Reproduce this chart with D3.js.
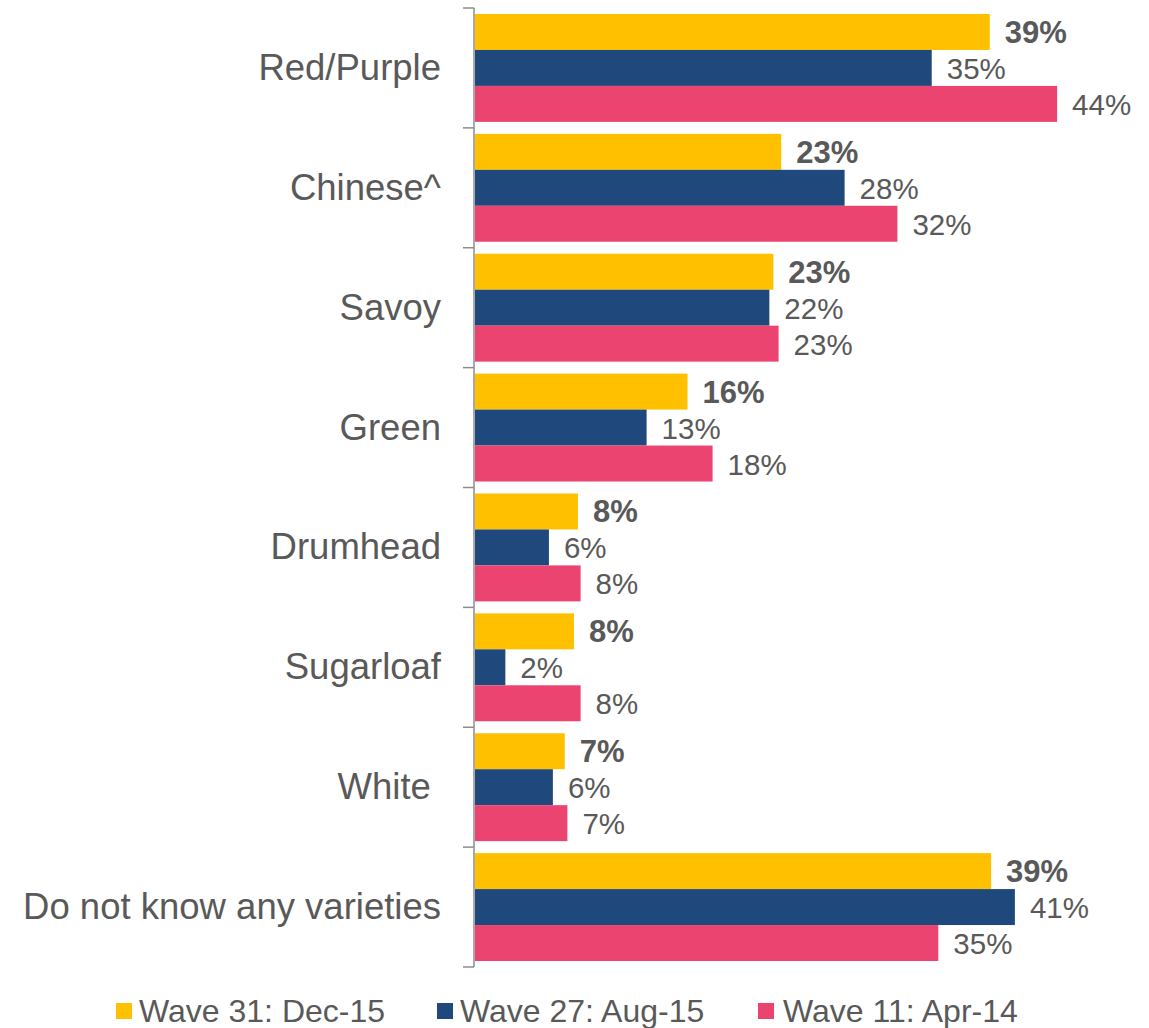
<!DOCTYPE html>
<html>
<head>
<meta charset="utf-8">
<script src="https://cdn.jsdelivr.net/npm/d3@7"></script>
<style>
  html, body { margin: 0; padding: 0; background: #ffffff; }
  svg { display: block; font-family: Arial, "Liberation Sans", Helvetica, sans-serif; }
</style>
</head>
<body>
<svg id="chart" width="1149" height="1028"></svg>
<script>
// Cabbage varieties known, by survey wave (share of respondents)
const categories = ["Red/Purple", "Chinese^", "Savoy", "Green", "Drumhead", "Sugarloaf", "White\u00a0", "Do not know any varieties"];
const seriesNames = ["Wave 31: Dec-15", "Wave 27: Aug-15", "Wave 11: Apr-14"];
const wave31 = [0.390, 0.232, 0.226, 0.161, 0.078, 0.075, 0.068, 0.391];
const wave27 = [0.346, 0.280, 0.223, 0.130, 0.056, 0.023, 0.059, 0.409];
const wave11 = [0.441, 0.320, 0.230, 0.180, 0.080, 0.080, 0.070, 0.351];
const seriesColors = ["#FFC000", "#1F497D", "#EC4470"];

const seriesValues = [wave31, wave27, wave11];
const textColor = "#595959";

const svg = d3.select("#chart");

const x = d3.scaleLinear().domain([0, 0.5]).range([475, 1135]);
const y = d3.scaleBand().domain(categories).range([8, 967]).paddingInner(0.1).paddingOuter(0.05);
const ySub = d3.scaleBand().domain(seriesNames).range([0, y.bandwidth()]);
const pct = d3.format(".0%");

// bars and value labels
const groups = svg.append("g").selectAll("g")
  .data(categories)
  .join("g")
  .attr("transform", d => `translate(0,${y(d)})`);

groups.each(function(cat, ci) {
  const g = d3.select(this);
  seriesNames.forEach((s, si) => {
    const v = seriesValues[si][ci];
    g.append("rect")
      .attr("x", x(0))
      .attr("y", ySub(s))
      .attr("width", x(v) - x(0))
      .attr("height", ySub.bandwidth())
      .attr("fill", seriesColors[si]);
    g.append("text")
      .attr("x", x(v) + 15)
      .attr("y", ySub(s) + ySub.bandwidth() / 2 + 11)
      .attr("font-size", si === 0 ? 31 : 29.5)
      .attr("font-weight", si === 0 ? "bold" : "normal")
      .attr("fill", textColor)
      .text(pct(v));
  });
});

// category axis: vertical line with ticks between groups
const axisG = svg.append("g");
const step = y.step();
const boundaries = d3.range(categories.length + 1).map(i => 8 + i * step);
axisG.append("line")
  .attr("x1", 474).attr("x2", 474)
  .attr("y1", boundaries[0]).attr("y2", boundaries[boundaries.length - 1])
  .attr("stroke", "#8c8c8c").attr("stroke-width", 1.5);
axisG.selectAll("line.tick")
  .data(boundaries)
  .join("line")
  .attr("class", "tick")
  .attr("x1", 463).attr("x2", 474)
  .attr("y1", d => d).attr("y2", d => d)
  .attr("stroke", "#8c8c8c").attr("stroke-width", 1.5);

axisG.selectAll("text.cat")
  .data(categories)
  .join("text")
  .attr("class", "cat")
  .attr("x", 441)
  .attr("y", d => y(d) + y.bandwidth() / 2 + 12)
  .attr("text-anchor", "end")
  .attr("font-size", 36.5)
  .attr("fill", textColor)
  .text(d => d);

// legend
const legendX = [116, 437, 758];
const legend = svg.append("g").selectAll("g")
  .data(seriesNames)
  .join("g")
  .attr("transform", (d, i) => `translate(${legendX[i]},1003)`);
legend.append("rect")
  .attr("width", 16).attr("height", 16)
  .attr("fill", (d, i) => seriesColors[i]);
legend.append("text")
  .attr("x", (d, i) => i === 2 ? 25 : 23)
  .attr("y", 19)
  .attr("font-size", 32)
  .attr("fill", textColor)
  .text(d => d);
</script>
</body>
</html>
